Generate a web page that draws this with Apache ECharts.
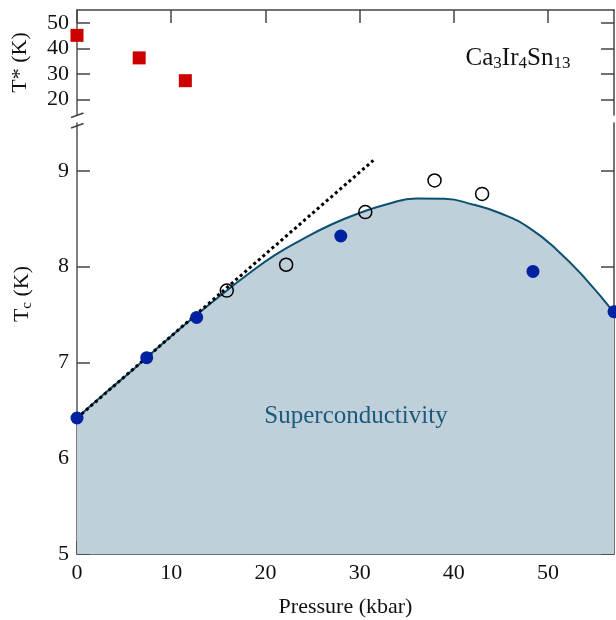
<!DOCTYPE html>
<html>
<head>
<meta charset="utf-8">
<script src="https://cdn.jsdelivr.net/npm/echarts@6/dist/echarts.min.js"></script>
<style>
  html, body { margin: 0; padding: 0; background: #fff; }
  #chart { width: 616px; height: 620px; }
</style>
</head>
<body>
<div id="chart"></div>
<script>
  // T* (top panel)
  var pressureStar = [0, 6.6, 11.5];
  var tStar = [45.1, 36.3, 27.4];

  // Tc, filled and open points
  var pressureFilled = [0, 7.4, 12.7, 28.0, 48.4, 57];
  var tcFilled = [6.42, 7.05, 7.47, 8.32, 7.95, 7.53];
  var pressureOpen = [15.9, 22.2, 30.6, 37.95, 43.0];
  var tcOpen = [7.75, 8.02, 8.57, 8.90, 8.76];

  // superconducting dome boundary
  var pressureCurve = [0, 3, 6, 9, 12, 15, 18, 21, 24, 27, 30, 33, 36, 39, 42, 45, 48, 51, 54, 57];
  var tcCurve = [6.42, 6.68, 6.93, 7.19, 7.44, 7.68, 7.91, 8.12, 8.29, 8.44, 8.56, 8.655, 8.712, 8.708, 8.65, 8.555, 8.405, 8.17, 7.87, 7.52];

  // initial slope line
  var pressureSlope = [0, 31.45];
  var tcSlope = [6.42, 9.11];

  var xTicks = [0, 10, 20, 30, 40, 50];
  var starTicks = [20, 30, 40, 50];
  var tcTicks = [5, 6, 7, 8, 9];

  function zip(a, b) {
    return a.map(function (v, i) { return [v, b[i]]; });
  }

  var font = 'Liberation Serif';
  var axisCol = '#444';

  var chart = echarts.init(document.getElementById('chart'));

  var option = {
    animation: false,
    backgroundColor: '#fff',
    textStyle: { fontFamily: font },
    grid: [
      { left: 77, right: 2, top: 10, height: 105, outerBoundsMode: 'none', containLabel: false },
      { left: 77, right: 2, top: 123, bottom: 66, outerBoundsMode: 'none', containLabel: false }
    ],
    xAxis: [
      {
        gridIndex: 0, type: 'value', min: 0, max: 57, position: 'top',
        axisLine: { show: true, lineStyle: { color: axisCol, width: 1.5 } },
        axisTick: { show: true, inside: true, length: 13, customValues: xTicks, lineStyle: { color: axisCol, width: 1.5 } },
        axisLabel: { show: false },
        splitLine: { show: false }
      },
      {
        gridIndex: 1, type: 'value', min: 0, max: 57, position: 'bottom',
        axisLine: { show: true, onZero: false, lineStyle: { color: axisCol, width: 1.5 } },
        axisTick: { show: true, inside: true, length: 13, customValues: xTicks, lineStyle: { color: axisCol, width: 1.5 } },
        axisLabel: { customValues: xTicks, color: '#111', fontSize: 22, fontFamily: font, margin: 8 },
        splitLine: { show: false },
        name: 'Pressure (kbar)', nameLocation: 'middle', nameGap: 42,
        nameTextStyle: { color: '#111', fontSize: 22, fontFamily: font }
      }
    ],
    yAxis: [
      {
        gridIndex: 0, type: 'value', min: 14, max: 55, position: 'left',
        axisLine: { show: true, lineStyle: { color: '#555', width: 1.5 } },
        axisTick: { show: true, inside: true, length: 13, customValues: starTicks, lineStyle: { color: axisCol, width: 1.5 } },
        axisLabel: { customValues: starTicks, color: '#111', fontSize: 22, fontFamily: font, margin: 8 },
        splitLine: { show: false },
        name: 'T* (K)', nameLocation: 'middle', nameGap: 46,
        nameTextStyle: { color: '#111', fontSize: 22, fontFamily: font }
      },
      {
        gridIndex: 0, type: 'value', min: 14, max: 55, position: 'right',
        axisLine: { show: true, lineStyle: { color: axisCol, width: 1.5 } },
        axisTick: { show: true, inside: true, length: 13, customValues: starTicks, lineStyle: { color: axisCol, width: 1.5 } },
        axisLabel: { show: false },
        splitLine: { show: false }
      },
      {
        gridIndex: 1, type: 'value', min: 5, max: 9.5, position: 'left',
        axisLine: { show: true, onZero: false, lineStyle: { color: '#555', width: 1.5 } },
        axisTick: { show: true, inside: true, length: 13, customValues: tcTicks, lineStyle: { color: axisCol, width: 1.5 } },
        axisLabel: { customValues: tcTicks, color: '#111', fontSize: 22, fontFamily: font, margin: 8 },
        splitLine: { show: false }
      },
      {
        gridIndex: 1, type: 'value', min: 5, max: 9.5, position: 'right',
        axisLine: { show: true, onZero: false, lineStyle: { color: axisCol, width: 1.5 } },
        axisTick: { show: true, inside: true, length: 13, customValues: tcTicks, lineStyle: { color: axisCol, width: 1.5 } },
        axisLabel: { show: false },
        splitLine: { show: false }
      }
    ],
    series: [
      {
        type: 'scatter', xAxisIndex: 0, yAxisIndex: 0, clip: false,
        symbol: 'rect', symbolSize: 13,
        itemStyle: { color: '#cc0000', opacity: 1 },
        data: zip(pressureStar, tStar), z: 5
      },
      {
        type: 'line', xAxisIndex: 1, yAxisIndex: 2,
        smooth: true, showSymbol: false,
        lineStyle: { color: '#0b5070', width: 2 },
        areaStyle: { color: '#bfd0da', opacity: 1, origin: 'start' },
        data: zip(pressureCurve, tcCurve), z: 1
      },
      {
        type: 'line', xAxisIndex: 1, yAxisIndex: 2,
        showSymbol: false,
        lineStyle: { color: '#000', width: 3, type: [3, 3] },
        data: zip(pressureSlope, tcSlope), z: 3
      },
      {
        type: 'scatter', xAxisIndex: 1, yAxisIndex: 2, clip: false,
        symbol: 'circle', symbolSize: 13,
        itemStyle: { color: '#0021a0', opacity: 1 },
        data: zip(pressureFilled, tcFilled), z: 5
      },
      {
        type: 'scatter', xAxisIndex: 1, yAxisIndex: 2, clip: false,
        symbol: 'circle', symbolSize: 13,
        itemStyle: { color: 'rgba(0,0,0,0)', borderColor: '#000', borderWidth: 1.5, opacity: 1 },
        data: zip(pressureOpen, tcOpen), z: 5
      }
    ],
    graphic: [
      {
        type: 'line', shape: { x1: 71, y1: 117.5, x2: 83.5, y2: 113 },
        style: { stroke: '#444', lineWidth: 1.5 }, z: 10
      },
      {
        type: 'line', shape: { x1: 71, y1: 128, x2: 83.5, y2: 123.5 },
        style: { stroke: '#444', lineWidth: 1.5 }, z: 10
      },
      {
        type: 'text', x: 22, y: 294, rotation: Math.PI / 2,
        style: {
          text: '{a|T}{b|c}{a| (K)}',
          align: 'center', verticalAlign: 'middle',
          rich: {
            a: { fontSize: 22, fontFamily: font, fill: '#111', color: '#111' },
            b: { fontSize: 15, fontFamily: font, fill: '#111', color: '#111', padding: [10, 0, 0, 0] }
          }
        }, z: 10
      },
      {
        type: 'text', x: 356, y: 416,
        style: {
          text: 'Superconductivity', fill: '#1b5a7c', font: '25px "Liberation Serif"',
          align: 'center', verticalAlign: 'middle'
        }, z: 10
      },
      {
        type: 'text', x: 518, y: 58,
        style: {
          text: '{n|Ca}{s|3}{n|Ir}{s|4}{n|Sn}{s|13}',
          align: 'center', verticalAlign: 'middle',
          rich: {
            n: { fontSize: 25, fontFamily: font, fill: '#111', color: '#111' },
            s: { fontSize: 17, fontFamily: font, fill: '#111', color: '#111', padding: [12, 0, 0, 0] }
          }
        }, z: 10
      }
    ]
  };

  chart.setOption(option);
</script>
</body>
</html>
